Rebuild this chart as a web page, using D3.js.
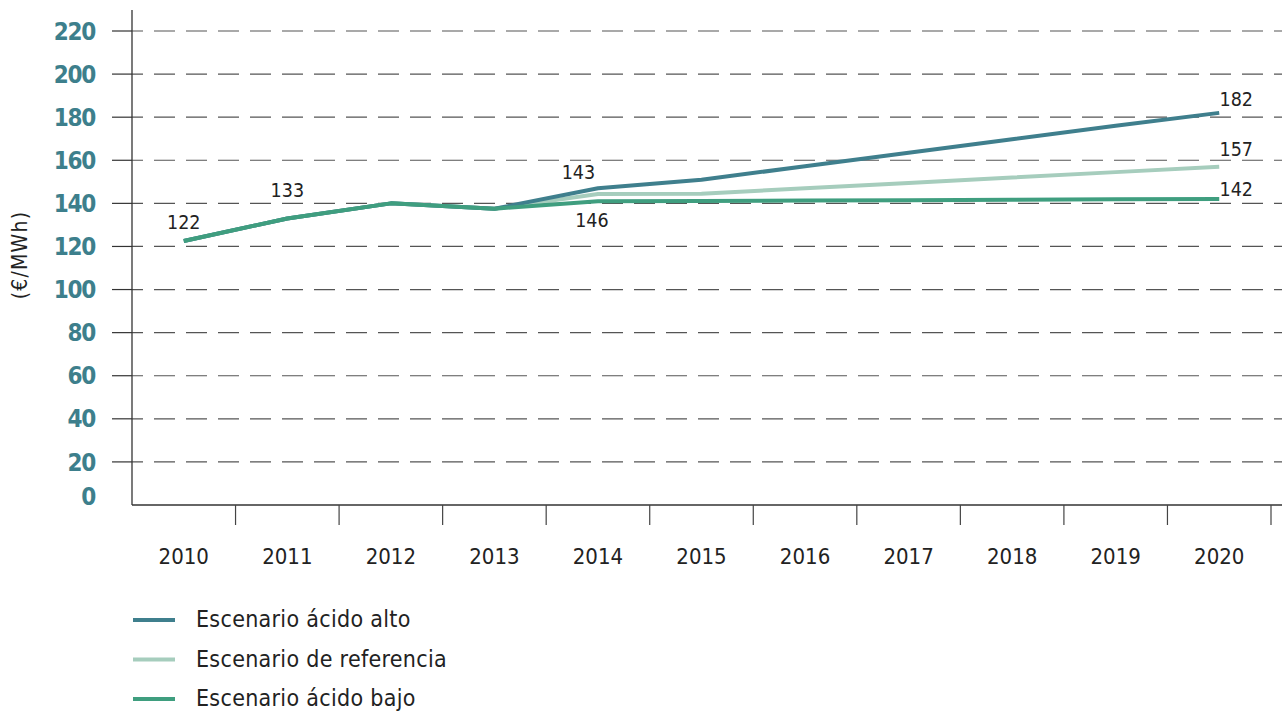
<!DOCTYPE html>
<html><head><meta charset="utf-8">
<script src="https://cdn.jsdelivr.net/npm/d3@7"></script>
<style>
body{margin:0;background:#fff;}
svg{display:block;}
</style></head>
<body>
<svg id="c" width="1282" height="711"></svg>
<script>
const years = ["2010","2011","2012","2013","2014","2015","2016","2017","2018","2019","2020"];
const yTicks = [0,20,40,60,80,100,120,140,160,180,200,220];
const highValues = [122.5,133,140,137.5,147,151,157.2,163.5,169.8,176,182];
const refValues  = [122.5,133,140,137.5,144.3,144.5,147,149.5,152,154.5,157];
const lowValues  = [122.5,133,140,137.5,141,141.1,141.3,141.5,141.7,141.9,142];
const seriesNames = ["Escenario ácido alto","Escenario de referencia","Escenario ácido bajo"];
const seriesColors = ["#3f7f8d","#a6cdbd","#3f9e7f"];
const pointLabels = [
  {year:"2010", value:122.5, text:"122", dx:0, dy:-12},
  {year:"2011", value:133, text:"133", dx:0, dy:-21},
  {year:"2014", value:147, text:"143", dx:-19.5, dy:-9.3},
  {year:"2014", value:141, text:"146", dx:-6, dy:26},
  {year:"2020", value:182, text:"182", dx:17, dy:-6.7},
  {year:"2020", value:157, text:"157", dx:17, dy:-11},
  {year:"2020", value:142, text:"142", dx:17, dy:-3}
];

(function(){
const svg = d3.select("#c");
const L = 132, R = 1271, T = 10, B = 505;
const x = d3.scaleBand().domain(years).range([L, R]);
const y = d3.scaleLinear().domain([0, 220]).range([B, 31]);
const cond = "'DejaVu Sans Condensed','DejaVu Sans',sans-serif";

const grid = svg.append("g");
yTicks.filter(d => d > 0).forEach(t => {
  grid.append("line").attr("x1", 112).attr("x2", L).attr("y1", y(t)).attr("y2", y(t))
    .attr("stroke", "#333").attr("stroke-width", 1.2);
  grid.append("line").attr("x1", L).attr("x2", 1282).attr("y1", y(t)).attr("y2", y(t))
    .attr("stroke", "#555").attr("stroke-width", 1.2)
    .attr("stroke-dasharray", "21,11").attr("stroke-dashoffset", 10);
});

svg.append("g").selectAll("text").data(yTicks).join("text")
  .attr("x", 95).attr("y", d => d === 0 ? y(0) - 9 : y(d))
  .attr("dy", "0.36em").attr("text-anchor", "end")
  .attr("font-family", cond).attr("letter-spacing", -1.3)
  .attr("font-weight", "bold").attr("font-size", 24).attr("fill", "#3d7f8c")
  .text(d => d);

svg.append("line").attr("x1", L).attr("x2", L).attr("y1", T).attr("y2", B)
  .attr("stroke", "#333").attr("stroke-width", 1.3);
svg.append("line").attr("x1", L).attr("x2", 1282).attr("y1", B).attr("y2", B)
  .attr("stroke", "#333").attr("stroke-width", 1.3);

svg.append("g").selectAll("line").data(years).join("line")
  .attr("x1", d => x(d) + x.bandwidth()).attr("x2", d => x(d) + x.bandwidth())
  .attr("y1", B).attr("y2", 525).attr("stroke", "#444").attr("stroke-width", 1.2);

svg.append("g").selectAll("text").data(years).join("text")
  .attr("x", d => x(d) + x.bandwidth() / 2).attr("y", 564)
  .attr("text-anchor", "middle").attr("font-family", cond)
  .attr("font-size", 22).attr("fill", "#222").text(d => d);

svg.append("text").attr("transform", "translate(27,255) rotate(-90)")
  .attr("text-anchor", "middle").attr("font-family", cond).attr("letter-spacing", 1.2)
  .attr("font-size", 21).attr("fill", "#222").text("(€/MWh)");

const line = d3.line().x((d, i) => x(years[i]) + x.bandwidth() / 2).y(d => y(d));
const allSeries = [highValues, refValues, lowValues];
[1, 0, 2].forEach(i => {
  svg.append("path").datum(allSeries[i]).attr("d", line)
    .attr("fill", "none").attr("stroke", seriesColors[i]).attr("stroke-width", 4)
    .attr("stroke-linejoin", "round");
});

svg.append("g").selectAll("text").data(pointLabels).join("text")
  .attr("x", d => x(d.year) + x.bandwidth() / 2 + d.dx)
  .attr("y", d => y(d.value) + d.dy)
  .attr("text-anchor", "middle")
  .attr("font-family", cond).attr("font-size", 19.5).attr("fill", "#222")
  .text(d => d.text);

const lg = svg.append("g");
seriesNames.forEach((n, i) => {
  const yy = 620 + i * 39.5;
  lg.append("line").attr("x1", 133).attr("x2", 175).attr("y1", yy).attr("y2", yy)
    .attr("stroke", seriesColors[i]).attr("stroke-width", 4);
  lg.append("text").attr("x", 196).attr("y", yy + 7)
    .attr("font-family", cond).attr("letter-spacing", 0.3)
    .attr("font-size", 23).attr("fill", "#222").text(n);
});
})();
</script>
</body></html>
